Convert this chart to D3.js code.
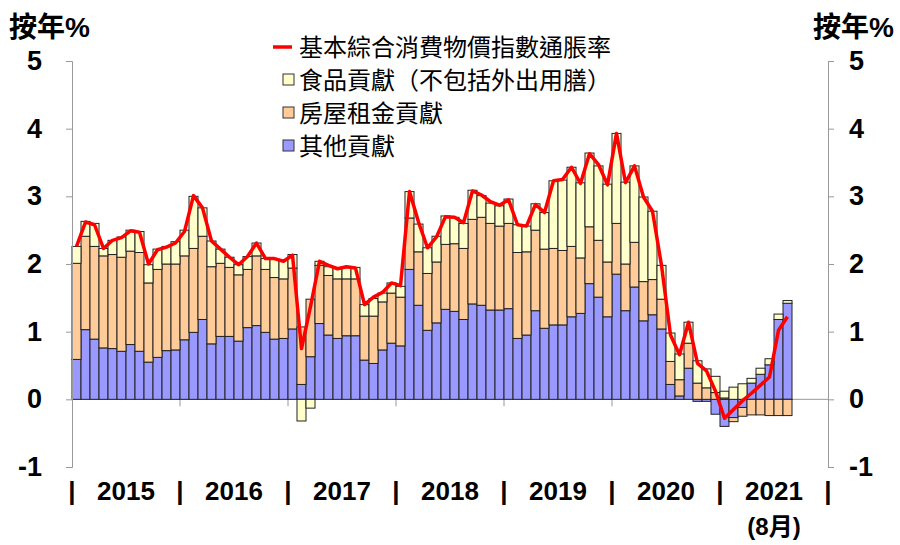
<!DOCTYPE html>
<html>
<head>
<meta charset="utf-8">
<script src="https://cdn.jsdelivr.net/npm/d3@7"></script>
<style>
  body { margin: 0; background: #fff; }
  text { font-family: "Liberation Sans", Arial, "Noto Sans CJK TC", sans-serif; }
</style>
</head>
<body>
<svg id="chart" width="900" height="545"></svg>
<script>
const years = ['2015', '2016', '2017', '2018', '2019', '2020', '2021'];
const yTicks = [-1, 0, 1, 2, 3, 4, 5];
const seriesNames = ['基本綜合消費物價指數通脹率', '食品貢獻（不包括外出用膳）', '房屋租金貢獻', '其他貢獻'];

// contributions, Jan 2015 - Aug 2021 (percentage points)
const otherContrib = [
  0.59, 1.03, 0.89, 0.76, 0.75, 0.71, 0.81, 0.71, 0.55, 0.62, 0.72, 0.73,
  0.88, 0.99, 1.18, 0.82, 0.93, 0.93, 0.86, 1.06, 1.09, 0.99, 0.89, 0.90,
  1.04, 0.22, 0.63, 1.12, 0.95, 0.90, 0.94, 0.94, 0.58, 0.53, 0.73, 0.83,
  0.79, 1.92, 1.39, 1.02, 1.13, 1.33, 1.30, 1.18, 1.41, 1.39, 1.32, 1.32,
  1.34, 0.90, 0.95, 1.31, 1.05, 1.10, 1.10, 1.22, 1.27, 1.71, 1.51, 1.22,
  1.85, 1.31, 1.66, 1.16, 1.25, 1.04, 0.22, 0.05, 0.46, -0.03, -0.03, -0.22,
  -0.40, -0.27, -0.12, 0.24, 0.37, 0.51, 1.18, 1.42
];
const rentContrib = [
  1.42, 1.38, 1.37, 1.36, 1.39, 1.39, 1.38, 1.46, 1.17, 1.30, 1.28, 1.27,
  1.24, 1.24, 1.23, 1.14, 1.08, 1.02, 0.98, 0.86, 1.03, 0.93, 0.91, 0.88,
  0.90, 0.85, 0.85, 0.86, 0.88, 0.88, 0.84, 0.84, 0.65, 0.70, 0.71, 0.74,
  0.72, 0.76, 0.79, 0.84, 0.90, 0.96, 1.00, 1.05, 1.25, 1.30, 1.28, 1.24,
  1.26, 1.27, 1.23, 1.19, 1.17, 1.13, 1.10, 1.04, 0.82, 0.84, 0.84, 0.81,
  0.75, 0.69, 0.66, 0.58, 0.52, 0.44, 0.34, 0.24, 0.37, 0.24, 0.17, 0.10,
  0.02, -0.06, -0.13, -0.23, -0.23, -0.24, -0.24, -0.24
];
const foodContrib = [
  0.25, 0.22, 0.34, 0.11, 0.21, 0.30, 0.31, 0.31, 0.27, 0.30, 0.26, 0.33,
  0.38, 0.77, 0.42, 0.38, 0.21, 0.15, 0.15, 0.19, 0.19, 0.16, 0.27, 0.28,
  0.20, -0.32, -0.13, 0.06, 0.13, 0.16, 0.18, 0.17, 0.17, 0.26, 0.13, 0.15,
  0.16, 0.39, 0.41, 0.38, 0.38, 0.42, 0.39, 0.37, 0.43, 0.32, 0.30, 0.30,
  0.36, 0.41, 0.38, 0.39, 0.54, 1.00, 1.04, 1.17, 1.11, 1.09, 1.10, 1.15,
  1.33, 1.21, 1.13, 1.25, 1.01, 0.50, 0.42, 0.38, 0.31, 0.33, 0.28, 0.24,
  0.10, 0.18, 0.23, 0.07, 0.09, 0.09, 0.08, 0.04
];
const underlying = [
  2.26, 2.62, 2.58, 2.23, 2.35, 2.39, 2.49, 2.47, 2.00, 2.21, 2.25, 2.31,
  2.48, 3.01, 2.83, 2.34, 2.22, 2.10, 1.99, 2.11, 2.31, 2.08, 2.08, 2.04,
  2.13, 0.75, 1.37, 2.04, 1.98, 1.93, 1.96, 1.94, 1.40, 1.51, 1.58, 1.72,
  1.68, 3.07, 2.62, 2.24, 2.40, 2.70, 2.69, 2.61, 3.08, 3.02, 2.92, 2.87,
  2.95, 2.58, 2.56, 2.88, 2.76, 3.23, 3.25, 3.43, 3.19, 3.63, 3.47, 3.17,
  3.93, 3.20, 3.45, 2.99, 2.78, 1.98, 0.95, 0.66, 1.14, 0.53, 0.42, 0.12,
  -0.28, -0.15, -0.02, 0.09, 0.21, 0.33, 1.02, 1.22
];

const svg = d3.select('#chart');
const grey = '#999';

const x = d3.scaleLinear().domain([0, years.length * 12]).range([72, 828]);
const y = d3.scaleLinear().domain([-1, 5]).range([467, 61]);
const bw = x(1) - x(0);

const table = otherContrib.map((v, i) => ({
  other: v, rent: rentContrib[i], food: foodContrib[i]
}));
const stack = d3.stack()
  .keys(['other', 'rent', 'food'])
  .offset(d3.stackOffsetDiverging);
const layers = stack(table);
const colors = { other: '#9999ff', rent: '#ffcc99', food: '#ffffcc' };

// zero line
svg.append('line')
  .attr('x1', x(0)).attr('x2', x(years.length * 12))
  .attr('y1', y(0)).attr('y2', y(0))
  .attr('stroke', grey).attr('stroke-width', 1);

// small year marks under zero line
svg.append('g')
  .selectAll('line')
  .data(d3.range(1, years.length))
  .join('line')
    .attr('x1', d => x(d * 12)).attr('x2', d => x(d * 12))
    .attr('y1', y(0)).attr('y2', y(0) + 7)
    .attr('stroke', grey);

// bars
svg.append('g')
  .selectAll('g')
  .data(layers)
  .join('g')
    .attr('fill', d => colors[d.key])
  .selectAll('rect')
  .data(d => d)
  .join('rect')
    .attr('x', (d, i) => x(i))
    .attr('width', bw)
    .attr('y', d => y(Math.max(d[0], d[1])))
    .attr('height', d => Math.abs(y(d[0]) - y(d[1])))
    .attr('stroke', '#222')
    .attr('stroke-width', 1);

// underlying inflation line
const line = d3.line()
  .x((d, i) => x(i) + bw / 2)
  .y(d => y(d));
svg.append('path')
  .datum(underlying)
  .attr('fill', 'none')
  .attr('stroke', '#ff0000')
  .attr('stroke-width', 3.5)
  .attr('stroke-linejoin', 'round')
  .attr('d', line);

// axes
const fmt = d => String(d);
const leftAxis = svg.append('g')
  .attr('transform', `translate(${x(0)},0)`)
  .call(d3.axisLeft(y).tickValues(yTicks).tickSize(6).tickPadding(24).tickFormat(fmt));
const rightAxis = svg.append('g')
  .attr('transform', `translate(${x(years.length * 12)},0)`)
  .call(d3.axisRight(y).tickValues(yTicks).tickSize(6).tickPadding(15).tickFormat(fmt));
[leftAxis, rightAxis].forEach(g => {
  g.selectAll('path, line').attr('stroke', grey);
  g.selectAll('text')
    .attr('font-size', 27)
    .attr('font-weight', 'bold')
    .attr('fill', '#000');
});

// unit labels
svg.append('text').attr('x', 9).attr('y', 37)
  .attr('font-size', 28).attr('font-weight', 'bold').text('按年%');
svg.append('text').attr('x', 894).attr('y', 37).attr('text-anchor', 'end')
  .attr('font-size', 28).attr('font-weight', 'bold').text('按年%');

// year labels
const yearY = 500;
svg.append('g')
  .selectAll('text')
  .data(d3.range(0, years.length + 1))
  .join('text')
    .attr('x', d => x(d * 12))
    .attr('y', yearY)
    .attr('text-anchor', 'middle')
    .attr('font-size', 26).attr('font-weight', 'bold')
    .text('|');
svg.append('g')
  .selectAll('text')
  .data(years)
  .join('text')
    .attr('x', (d, i) => x(i * 12 + 6))
    .attr('y', yearY)
    .attr('text-anchor', 'middle')
    .attr('font-size', 26).attr('font-weight', 'bold')
    .text(d => d);
svg.append('text')
  .attr('x', x(6 * 12 + 6)).attr('y', 535)
  .attr('text-anchor', 'middle')
  .attr('font-size', 24).attr('font-weight', 'bold')
  .text('(8月)');

// legend
const legend = svg.append('g');
const rowY = [47, 80, 113, 146];
legend.append('line')
  .attr('x1', 273).attr('x2', 292)
  .attr('y1', rowY[0]).attr('y2', rowY[0])
  .attr('stroke', '#ff0000').attr('stroke-width', 3.5);
['food', 'rent', 'other'].forEach((k, i) => {
  legend.append('rect')
    .attr('x', 283).attr('y', rowY[i + 1] - 6)
    .attr('width', 11).attr('height', 11)
    .attr('fill', colors[k]).attr('stroke', '#333');
});
legend.selectAll('text.lg')
  .data(seriesNames)
  .join('text')
    .attr('class', 'lg')
    .attr('x', 299)
    .attr('y', (d, i) => rowY[i] + 9)
    .attr('font-size', 24)
    .text(d => d);
</script>
</body>
</html>
